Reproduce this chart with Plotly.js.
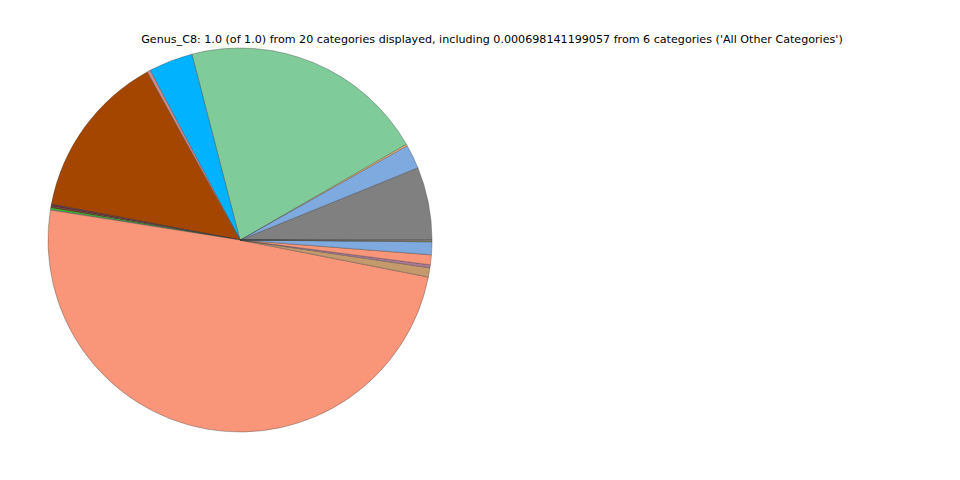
<!DOCTYPE html>
<html>
<head>
<meta charset="utf-8">
<script src="https://cdn.plot.ly/plotly-3.0.1.min.js"></script>
<style>html,body{margin:0;padding:0;background:#fff;}#chart{width:960px;height:480px;}</style>
</head>
<body>
<div id="chart"></div>
<script>
const categories = [
  "Category 1", "Category 2", "Category 3", "Category 4", "Category 5",
  "Category 6", "Category 7", "Category 8", "Category 9", "Category 10",
  "Category 11", "Category 12", "Category 13", "Category 14", "Category 15",
  "Category 16", "Category 17", "Category 18", "Category 19", "All Other Categories"
];
const values = [
  0.0614, 0.0203, 0.0014, 0.2072, 0.0372,
  0.0028, 0.1397, 0.0004, 0.0014, 0.0014,
  0.0014, 0.0004, 0.4939, 0.0078, 0.0025,
  0.0083, 0.0108, 0.0004, 0.0004, 0.0007
];
const colors = [
  "#808080", "#7eaadf", "#ffb366", "#80cb9a", "#00b2ff",
  "#d08a8a", "#a44600", "#404040", "#7a1f3d", "#6b4a10",
  "#1fdd1f", "#c0c0c0", "#f9967a", "#c49a6c", "#b07898",
  "#f9967a", "#7eaadf", "#e0e0e0", "#ffd700", "#999999"
];
const titleText = "Genus_C8: 1.0 (of 1.0) from 20 categories displayed, including 0.000698141199057 from 6 categories ('All Other Categories')";

// Plotly's counterclockwise mode places the first slice ending at `rotation`;
// shift so the first slice starts at 3 o'clock like matplotlib.
const total = values.reduce((a, b) => a + b, 0);
const startRotation = 90 - 360 * values[0] / total;

Plotly.newPlot("chart", [{
  type: "pie",
  labels: categories,
  values: values,
  sort: false,
  direction: "counterclockwise",
  rotation: startRotation,
  textinfo: "none",
  hoverinfo: "label+value",
  marker: {colors: colors, line: {color: "rgba(60,60,60,0.6)", width: 0.6}},
  domain: {x: [0.05, 0.45], y: [0.1, 0.9]},
  showlegend: false
}], {
  width: 960, height: 480,
  margin: {l: 0, r: 0, t: 0, b: 0},
  paper_bgcolor: "#fff",
  showlegend: false,
  title: {text: titleText, x: 0.5125, xanchor: "center", y: 0.918, yanchor: "middle",
          font: {family: "DejaVu Sans", size: 11.14, color: "#000"}}
}, {displayModeBar: false});
</script>
</body>
</html>
